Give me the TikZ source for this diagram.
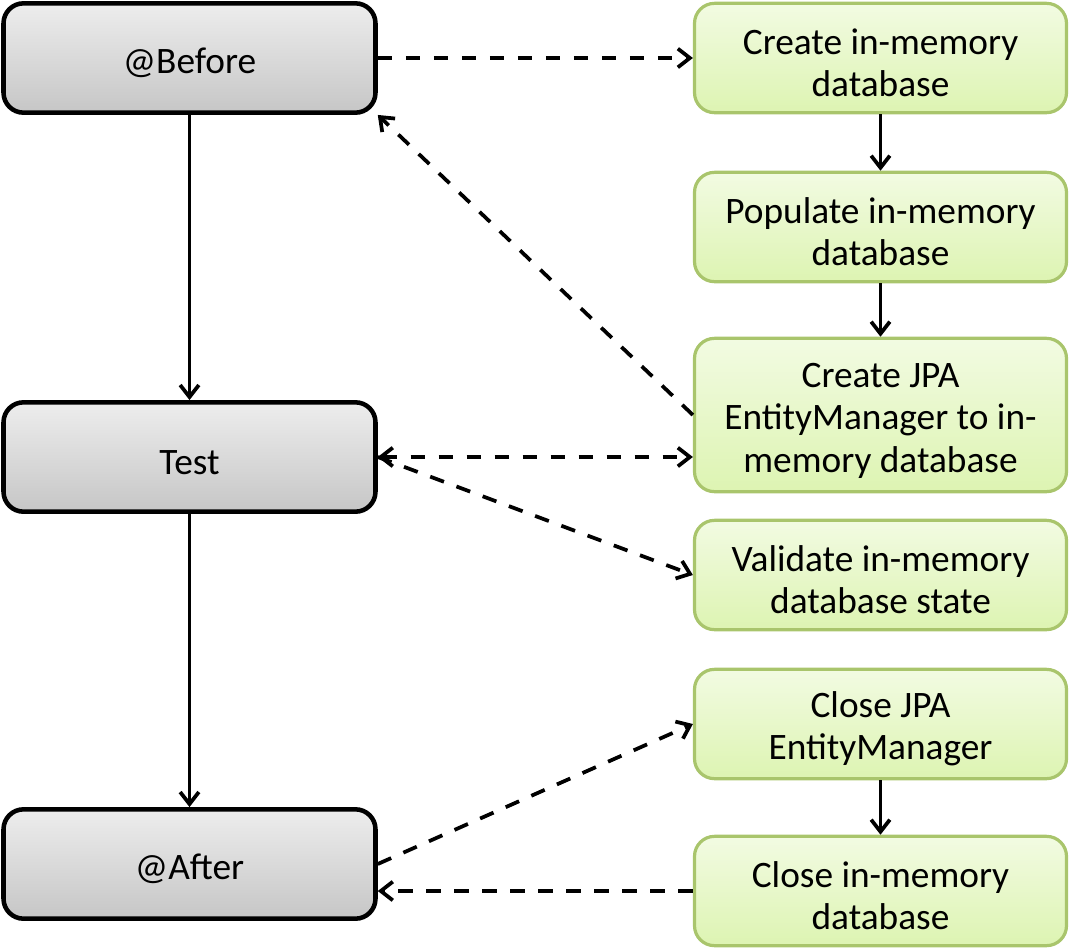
\documentclass[tikz,border=0pt]{standalone}
\usepackage{fontspec}
\setmainfont{Carlito}
\usetikzlibrary{arrows.meta}

\definecolor{boxgrey}{HTML}{C6C6C6}
\definecolor{boxgreen}{HTML}{A9C56C}
\definecolor{greentop}{HTML}{F2FBE2}
\definecolor{greenbot}{HTML}{DDF4B2}

\tikzset{
  boxtext/.style={font=\fontsize{28}{31.5}\selectfont, text width=260pt, align=flush center,
    execute at begin node={\rule{0pt}{27pt}}},
  phase/.style={boxtext, draw=black, line width=3.4pt, rounded corners=15pt,
    top color=white!93!black, bottom color=boxgrey,
    minimum width=279pt, minimum height=82pt},
  action/.style={boxtext, draw=boxgreen, line width=2.4pt, rounded corners=15pt,
    top color=greentop, bottom color=greenbot,
    minimum width=279pt, minimum height=82pt},
  flow/.style={line width=2.8pt, -{Straight Barb[length=9pt,width=14pt]}},
  call/.style={flow, dash pattern=on 11pt off 10pt}
}

\begin{document}
\begin{tikzpicture}[x=0.75pt,y=-0.75pt]
\useasboundingbox (0,0) rectangle (1071,950);

% junit phases
\node[phase] (before) at (189.5,58) {@Before};
\node[phase] (test) at (189.5,457) {Test};
\node[phase] (after) at (189.5,864) {@After};

% what happens in each phase
\node[action] (createdb) at (880.5,58) {Create in-memory\\database};
\node[action] (populate) at (880.5,227) {Populate in-memory\\database};
\node[action, minimum height=115pt] (createem) at (880.5,415) {Create JPA\\EntityManager to in-\\memory database};
\node[action] (validate) at (880.5,575) {Validate in-memory\\database state};
\node[action] (closeem) at (880.5,724) {Close JPA\\EntityManager};
\node[action] (closedb) at (880.5,891) {Close in-memory\\database};

\draw[flow] (before) -- (test);
\draw[flow] (test) -- (after);
\draw[flow] (createdb) -- (populate);
\draw[flow] (populate) -- (createem);
\draw[flow] (closeem) -- (closedb);

\draw[call] (before.east) -- (createdb.west);
\draw[call] (createem.west) -- (before.south east);
\draw[call, {Straight Barb[length=9pt,width=14pt]}-{Straight Barb[length=9pt,width=14pt]}] (test.east) -- (test.east -| createem.west);
\draw[call] (test.east) -- (validate.west);
\draw[call] (after.east) -- (closeem.west);
\draw[call] (closedb.west) -- (closedb.west -| after.east);

\end{tikzpicture}
\end{document}
